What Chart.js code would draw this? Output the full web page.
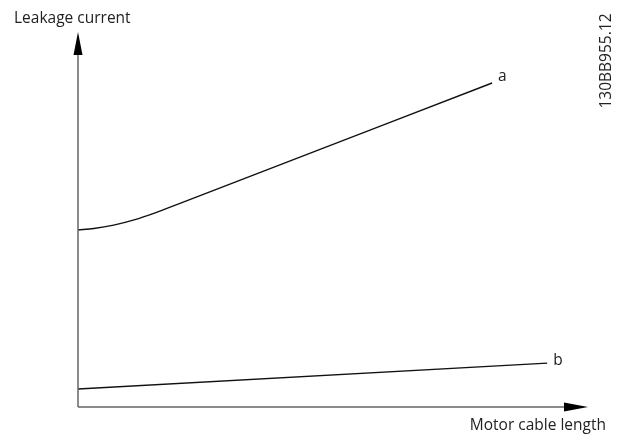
<!DOCTYPE html>
<html>
<head>
<meta charset="utf-8">
<script src="https://cdn.jsdelivr.net/npm/chart.js@4/dist/chart.umd.min.js"></script>
<style>
  html, body { margin: 0; padding: 0; background: #fff; }
  #wrap { width: 622px; height: 437px; position: relative; }
</style>
</head>
<body>
<div id="wrap"><canvas id="chart"></canvas></div>
<script>
// curve a: leakage current vs motor cable length (arbitrary units)
const curveAX = [0, 3.1, 7, 11, 15, 20, 81.2];
const curveAY = [47.2, 47.6, 48.5, 49.9, 51.7, 54.3, 86.4];
// curve b
const curveBX = [0, 92];
const curveBY = [4.8, 11.7];
const seriesLabels = ['a', 'b'];
const xTitle = 'Motor cable length';
const yTitle = 'Leakage current';
const figureCode = '130BB955.12';

const FONT = '"Open Sans", "DejaVu Sans", sans-serif';

function toPoints(xs, ys) {
    return xs.map((x, i) => ({ x: x, y: ys[i] }));
}

// draws the arrowed axes, curve labels and texts
const drawingPlugin = {
    id: 'drawing',
    afterDatasetsDraw(chart) {
        const ctx = chart.ctx;
        const area = chart.chartArea;
        const xs = chart.scales.x;
        const ys = chart.scales.y;
        const x0 = xs.getPixelForValue(0);
        const y0 = ys.getPixelForValue(0);

        ctx.save();
        ctx.strokeStyle = '#666';
        ctx.lineWidth = 1.5;
        ctx.beginPath();
        ctx.moveTo(x0, y0);
        ctx.lineTo(x0, area.top + 12);
        ctx.moveTo(x0, y0);
        ctx.lineTo(area.right - 12, y0);
        ctx.stroke();

        ctx.fillStyle = '#000';
        // y arrow
        ctx.beginPath();
        ctx.moveTo(x0, area.top);
        ctx.lineTo(x0 - 4.5, area.top + 23);
        ctx.lineTo(x0 + 4.5, area.top + 23);
        ctx.closePath();
        ctx.fill();
        // x arrow
        ctx.beginPath();
        ctx.moveTo(area.right, y0);
        ctx.lineTo(area.right - 24, y0 - 4.5);
        ctx.lineTo(area.right - 24, y0 + 4.5);
        ctx.closePath();
        ctx.fill();

        ctx.fillStyle = '#222';
        ctx.font = '15.5px ' + FONT;
        ctx.textBaseline = 'middle';
        // curve labels
        const lastA = curveAX.length - 1;
        ctx.textAlign = 'left';
        ctx.fillText(seriesLabels[0], xs.getPixelForValue(curveAX[lastA]) + 6, ys.getPixelForValue(curveAY[lastA]) - 6);
        const lastB = curveBX.length - 1;
        ctx.fillText(seriesLabels[1], xs.getPixelForValue(curveBX[lastB]) + 6, ys.getPixelForValue(curveBY[lastB]) - 3);

        // axis titles
        ctx.textAlign = 'left';
        ctx.fillText(yTitle, 14, 19);
        ctx.textAlign = 'right';
        ctx.fillText(xTitle, 606, 426);

        // figure code, rotated
        ctx.translate(607, 61);
        ctx.rotate(-Math.PI / 2);
        ctx.textAlign = 'center';
        ctx.font = '15.5px ' + FONT;
        ctx.fillText(figureCode, 0, 0);
        ctx.restore();
    }
};

new Chart(document.getElementById('chart'), {
    type: 'line',
    data: {
        datasets: [
            {
                label: seriesLabels[0],
                data: toPoints(curveAX, curveAY),
                borderColor: '#111',
                borderWidth: 1.4,
                pointRadius: 0,
                cubicInterpolationMode: 'monotone'
            },
            {
                label: seriesLabels[1],
                data: toPoints(curveBX, curveBY),
                borderColor: '#111',
                borderWidth: 1.4,
                pointRadius: 0
            }
        ]
    },
    options: {
        responsive: true,
        maintainAspectRatio: false,
        animation: false,
        layout: { padding: { left: 78, right: 34, top: 32, bottom: 30 } },
        plugins: {
            legend: { display: false },
            tooltip: { enabled: false }
        },
        scales: {
            x: { type: 'linear', min: 0, max: 100, display: false },
            y: { type: 'linear', min: 0, max: 100, display: false }
        }
    },
    plugins: [drawingPlugin]
});
</script>
</body>
</html>
